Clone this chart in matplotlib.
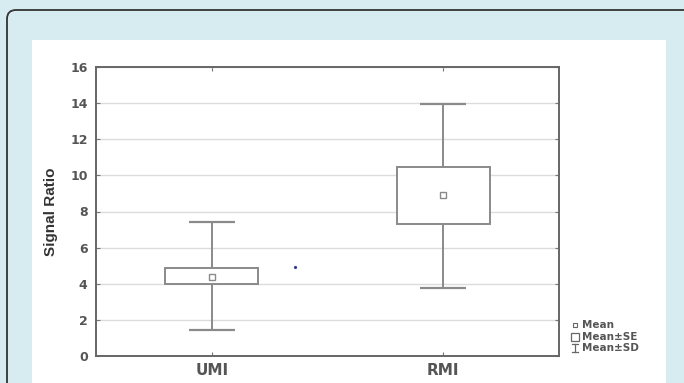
import numpy as np
import matplotlib
matplotlib.use('Agg')
import matplotlib.pyplot as plt
import matplotlib.patches as mpatches
import matplotlib.transforms as mtransforms

# data
cats = ['UMI', 'RMI']
means = [4.4, 8.9]
se_lo = [4.0, 7.32]
se_hi = [4.88, 10.47]
sd_lo = [1.45, 3.77]
sd_hi = [7.42, 13.95]
yticks = [0, 2, 4, 6, 8, 10, 12, 14, 16]
stray_x = [1.36]
stray_y = [4.93]

W, H = 684, 383
fig = plt.figure(figsize=(W/100, H/100), dpi=100)
fig.patch.set_facecolor('#d7ecf1')
ident = mtransforms.IdentityTransform()

# rounded frame and white panel (pixel coords, y from bottom)
frame = mpatches.FancyBboxPatch((7, -40), 720, H-10+40,
                                boxstyle='round,pad=0,rounding_size=9',
                                facecolor='#d7ecf1', edgecolor='#333333',
                                lw=1.3, transform=ident)
fig.add_artist(frame)
panel = mpatches.Rectangle((32, -5), 634, H-40+5, facecolor='white',
                           edgecolor='none', transform=ident)
fig.add_artist(panel)

ax = fig.add_axes([96/W, 1-356/H, 463/W, 289/H])
ax.set_facecolor('white')
ax.set_zorder(2)

pos = np.arange(1, len(cats)+1)
box_w = 0.40
cap_w = 0.20
gray = '#8a8a8a'

for p, m, sl, sh, dl, dh in zip(pos, means, se_lo, se_hi, sd_lo, sd_hi):
    ax.add_patch(mpatches.Rectangle((p-box_w/2, sl), box_w, sh-sl,
                                    facecolor='white', edgecolor=gray,
                                    lw=1.4, zorder=3))
    ax.vlines(p, dl, sl, color=gray, lw=1.4, zorder=3)
    ax.vlines(p, sh, dh, color=gray, lw=1.4, zorder=3)
    ax.hlines([dl, dh], p-cap_w/2, p+cap_w/2, color=gray, lw=1.6, zorder=3)
ax.plot(pos, means, ls='none', marker='s', ms=4, mfc='white',
        mec=gray, mew=1.0, zorder=4)
ax.plot(stray_x, stray_y, ls='none', marker='o', ms=1.3, color='#3a3a9a',
        zorder=4)

ax.set_xlim(0.5, 2.5)
ax.set_ylim(0, 16)
ax.set_yticks(yticks)
ax.set_xticks(pos)
ax.set_xticklabels(cats)
ax.yaxis.grid(True, color='#dcdcdc', lw=1.0)
ax.set_axisbelow(True)
for s in ax.spines.values():
    s.set_color('#666666')
    s.set_linewidth(1.4)
ax.tick_params(axis='both', direction='in', length=3, color='#777777',
               top=True, right=True)
ax.tick_params(axis='y', labelsize=9, labelcolor='#555555', pad=6)
ax.tick_params(axis='x', labelsize=11, labelcolor='#555555', pad=5)
for lab in ax.get_xticklabels() + ax.get_yticklabels():
    lab.set_fontfamily('DejaVu Sans')
    lab.set_fontweight('bold')
ax.set_ylabel('Signal Ratio', fontsize=11, fontweight='bold',
              color='#333333', family='Liberation Sans')
ax.yaxis.set_label_coords(-0.082, 0.5)

# legend, drawn by hand
leg_items = ['Mean', 'Mean±SE', 'Mean±SD']
leg_y = [325, 337, 348]
for txt, yy in zip(leg_items, leg_y):
    fig.text(582/W, 1-yy/H, txt, fontsize=7.5, fontweight='bold',
             color='#555555', family='DejaVu Sans', va='center',
             ha='left', zorder=5)
fig.add_artist(plt.Line2D([575/W], [1-325/H], marker='s', ms=3.2,
                          mfc='white', mec='#666666', mew=0.8, ls='none'))
fig.add_artist(plt.Line2D([575/W], [1-337/H], marker='s', ms=6,
                          mfc='white', mec='#666666', mew=0.9, ls='none'))
fig.add_artist(plt.Line2D([575/W, 575/W], [1-344/H, 1-352/H],
                          color='#666666', lw=0.9))
fig.add_artist(plt.Line2D([572/W, 578/W], [1-344/H, 1-344/H],
                          color='#666666', lw=0.9))
fig.add_artist(plt.Line2D([572/W, 578/W], [1-352/H, 1-352/H],
                          color='#666666', lw=0.9))

fig.savefig('out.png', dpi=100, facecolor=fig.get_facecolor())
